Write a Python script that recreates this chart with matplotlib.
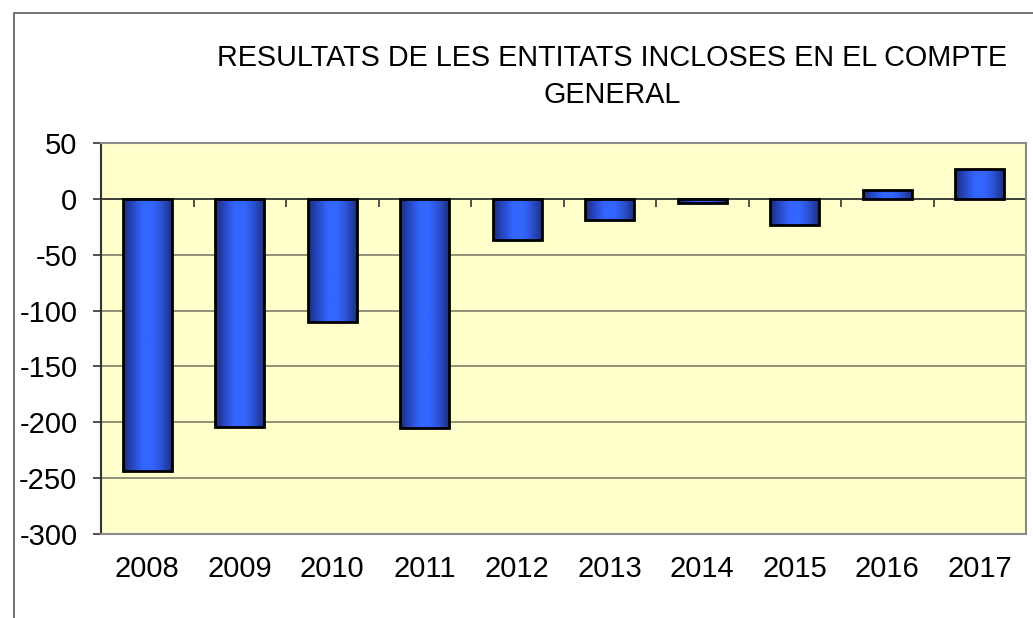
import numpy as np
import matplotlib
matplotlib.use("Agg")
import matplotlib.pyplot as plt
from matplotlib.colors import LinearSegmentedColormap
from matplotlib.patches import Rectangle

plt.rcParams["font.family"] = ["Liberation Sans", "DejaVu Sans"]
plt.rcParams["axes.unicode_minus"] = False

years = ["2008", "2009", "2010", "2011", "2012", "2013", "2014", "2015", "2016", "2017"]
resultats = [-244, -204, -110, -205, -37, -19, -4, -23, 8, 27]
yticks = [50, 0, -50, -100, -150, -200, -250, -300]

BG = "#FFFFCC"
GRID = "#7F7F6A"
grad = LinearSegmentedColormap.from_list(
    "bar", ["#1B2C72", "#2848C8", "#3366FF", "#3366FF", "#2A4ECC", "#1B2C72"])

fig = plt.figure(figsize=(10.33, 6.18), dpi=100)
# marc exterior del grafic (retallat a la dreta i a baix)
fig.patches.append(Rectangle((14 / 1033, -0.1), 1.2, 1 - 13 / 618 + 0.1,
                             transform=fig.transFigure, fill=False,
                             edgecolor="#5A5A5A", linewidth=1.2))

ax = fig.add_axes([101 / 1033, 1 - 534 / 618, 925 / 1033, 391 / 618])
ax.set_facecolor(BG)

x = np.arange(len(years))
bars = ax.bar(x, resultats, width=0.53, color="none", edgecolor="black",
              linewidth=2, zorder=4)
g = np.linspace(0, 1, 256).reshape(1, -1)
for b in bars:
    x0, w = b.get_x(), b.get_width()
    y0, y1 = sorted([0, b.get_height()])
    im = ax.imshow(g, cmap=grad, aspect="auto", extent=[x0, x0 + w, y0, y1],
                   zorder=3, interpolation="bilinear")
    im.set_clip_path(b)

ax.set_xlim(-0.5, len(years) - 0.5)
ax.set_ylim(-300, 50)
ax.set_yticks(yticks)
ax.set_xticks(x)
ax.set_xticklabels(years)
ax.tick_params(axis="x", length=0, pad=15, labelsize=21)
ax.tick_params(axis="y", direction="out", length=6, width=1.2, color="#333333",
               pad=11, labelsize=21)
ax.grid(axis="y", color=GRID, linewidth=1.2, zorder=1)
ax.set_axisbelow(True)

# eix zero i marques entre categories
ax.axhline(0, color="#333333", linewidth=1.2, zorder=2)
ax.vlines(x + 0.5, -7, 0, color="#333333", linewidth=1.2, zorder=2)

for side in ["top", "right", "bottom"]:
    ax.spines[side].set_color("#8A8A8A")
    ax.spines[side].set_linewidth(1.5)
ax.spines["left"].set_color("#333333")
ax.spines["left"].set_linewidth(1.5)

fig.text(612 / 1033, 1 - 44 / 618,
         "RESULTATS DE LES ENTITATS INCLOSES EN EL COMPTE\nGENERAL",
         ha="center", va="top", fontsize=20.7, linespacing=1.4)

fig.savefig("out.png", dpi=100)
